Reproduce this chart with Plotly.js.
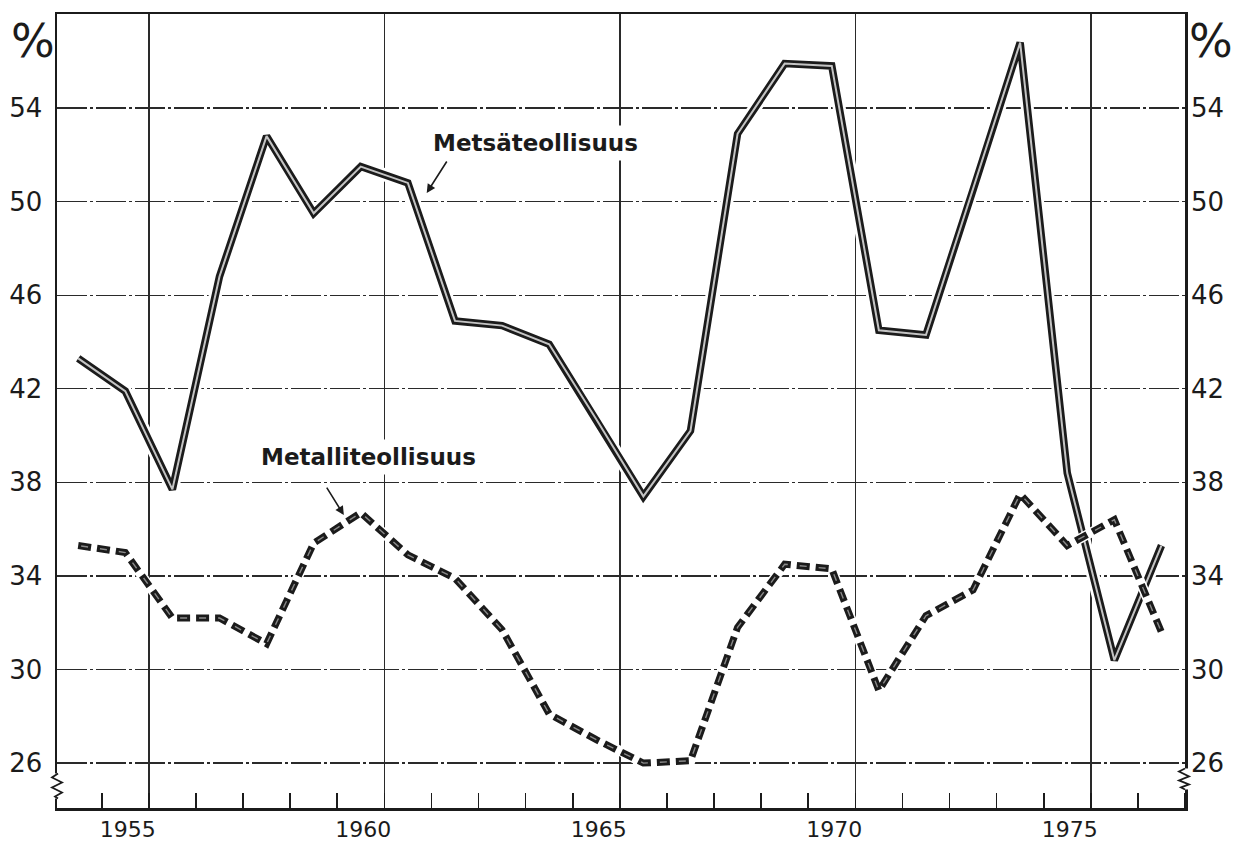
<!DOCTYPE html>
<html>
<head>
<meta charset="utf-8">
<script src="https://cdn.plot.ly/plotly-3.0.1.min.js"></script>
<style>
html,body{margin:0;padding:0;background:#fff;}
#chart{width:1238px;height:843px;}
</style>
</head>
<body>
<div id="chart"></div>
<script>
// ---- data ----
const years = [1954,1955,1956,1957,1958,1959,1960,1961,1962,1963,1964,1965,
               1966,1967,1968,1969,1970,1971,1972,1973,1974,1975,1976,1977];
const metsateollisuus = [43.3,41.9,37.7,46.8,52.8,49.5,51.5,50.8,44.9,44.7,43.9,40.7,
                         37.4,40.2,52.9,55.9,55.8,44.5,44.3,50.5,56.8,38.4,30.4,35.3];
const metalliteollisuus = [35.3,35.0,32.2,32.2,31.1,35.4,36.7,34.9,33.9,31.7,28.1,27.0,
                           26.0,26.1,31.8,34.5,34.3,29.1,32.3,33.4,37.5,35.3,36.4,31.6];
const xTickYears = [1955,1960,1965,1970,1975];
const xTickText = ['1955','1960','1965','1970','1975'];
const yTicks = [26,30,34,38,42,46,50,54];
const seriesNames = ['Metsäteollisuus','Metalliteollisuus'];

// gridlines sit at the end of each labelled year
const xGrid = xTickYears.map(y => y + 0.5);
const ink = '#1b1b1b';
const FONT = 'DejaVu Sans, Verdana, sans-serif';

const traces = [
  // Metsäteollisuus: double line (dark outline, light core) with white halo
  {x: years, y: metsateollisuus, mode: 'lines', line: {color: '#ffffff', width: 13}, hoverinfo: 'skip', showlegend: false},
  {x: years, y: metsateollisuus, mode: 'lines', line: {color: ink, width: 7.5}, name: seriesNames[0], showlegend: false},
  {x: years, y: metsateollisuus, mode: 'lines', line: {color: '#c4c4c4', width: 2}, hoverinfo: 'skip', showlegend: false},
  // Metalliteollisuus: heavy dashed line
  {x: years, y: metalliteollisuus, yaxis: 'y2', mode: 'lines', line: {color: '#ffffff', width: 10}, hoverinfo: 'skip', showlegend: false},
  {x: years, y: metalliteollisuus, yaxis: 'y2', mode: 'lines', line: {color: ink, width: 7, dash: '13px,6px'}, name: seriesNames[1], showlegend: false},
  {x: years, y: metalliteollisuus, yaxis: 'y2', mode: 'lines', line: {color: '#8a8a8a', width: 1.4, dash: '0px,3px,7px,9px'}, hoverinfo: 'skip', showlegend: false}
];

const xRange = [1953.55, 1977.5];
const yRange = [24.08, 58.02];

const layout = {
  width: 1238, height: 843,
  margin: {l: 57, r: 53, t: 14, b: 35},
  paper_bgcolor: '#ffffff', plot_bgcolor: '#ffffff',
  showlegend: false,
  font: {family: FONT, color: ink},
  xaxis: {
    range: xRange, autorange: false,
    tickmode: 'array', tickvals: xGrid, ticktext: xTickText,
    ticks: '', ticklabelshift: -21, ticklabelstandoff: 0,
    tickfont: {size: 22, family: FONT, color: ink},
    showgrid: true, gridcolor: '#2a2a2a', gridwidth: 1.4,
    showline: true, linecolor: ink, linewidth: 2.5, mirror: true,
    zeroline: false,
    minor: {tickmode: 'linear', tick0: 1953.5, dtick: 1, ticks: 'inside', ticklen: 15,
            tickwidth: 1.6, tickcolor: ink, showgrid: false}
  },
  yaxis: {
    range: yRange, autorange: false,
    tickmode: 'array', tickvals: yTicks,
    ticks: '', ticklabelstandoff: 7,
    tickfont: {size: 26, family: FONT, color: ink},
    showgrid: true, gridcolor: '#2a2a2a', gridwidth: 1.3, griddash: '30px,3px,3px,3px',
    showline: true, linecolor: ink, linewidth: 2.5, mirror: true,
    zeroline: false
  },
  yaxis2: {
    overlaying: 'y', side: 'right',
    range: yRange, autorange: false,
    tickmode: 'array', tickvals: yTicks,
    ticks: '', ticklabelstandoff: 5,
    tickfont: {size: 26, family: FONT, color: ink},
    showgrid: false, showline: false, zeroline: false
  },
  annotations: [
    {xref: 'paper', yref: 'paper', x: -0.021, y: 0.966, text: '%', showarrow: false,
     font: {size: 46, family: FONT, color: ink}, xanchor: 'center', yanchor: 'middle'},
    {xref: 'paper', yref: 'paper', x: 1.023, y: 0.966, text: '%', showarrow: false,
     font: {size: 46, family: FONT, color: ink}, xanchor: 'center', yanchor: 'middle'},
    {x: 1963.70, y: 52.5, text: seriesNames[0], showarrow: false,
     font: {size: 23, family: FONT, color: ink, weight: 'bold'},
     bgcolor: '#ffffff', borderpad: 4, xanchor: 'center', yanchor: 'middle'},
    {x: 1960.17, y: 39.1, text: seriesNames[1], showarrow: false,
     font: {size: 23, family: FONT, color: ink, weight: 'bold'},
     bgcolor: '#ffffff', borderpad: 4, xanchor: 'center', yanchor: 'middle'},
    {x: 1961.40, y: 50.37, text: '', showarrow: true, arrowhead: 2, arrowsize: 1.1,
     arrowwidth: 1.6, arrowcolor: ink, ax: 21, ay: -33},
    {x: 1959.64, y: 36.6, text: '', showarrow: true, arrowhead: 2, arrowsize: 1.1,
     arrowwidth: 1.6, arrowcolor: ink, ax: -18, ay: -29}
  ],
  shapes: [
    // axis break marks near the bottom of both vertical axes
    {type: 'path', layer: 'above', xref: 'paper', yref: 'y', xsizemode: 'pixel', ysizemode: 'pixel',
     xanchor: 0, yanchor: 25, path: 'M -3,13 L 3,13 L 3,-12 L -3,-12 Z', fillcolor: '#ffffff', line: {width: 0}},
    {type: 'path', layer: 'above', xref: 'paper', yref: 'y', xsizemode: 'pixel', ysizemode: 'pixel',
     xanchor: 0, yanchor: 25, path: 'M 1,13 L -5,9 L 5,4 L -5,-1 L 5,-6 L -2,-10 L 1,-12', line: {color: ink, width: 1.8}},
    {type: 'path', layer: 'above', xref: 'paper', yref: 'y', xsizemode: 'pixel', ysizemode: 'pixel',
     xanchor: 1, yanchor: 25.3, path: 'M -3,11 L 3,11 L 3,-10 L -3,-10 Z', fillcolor: '#ffffff', line: {width: 0}},
    {type: 'path', layer: 'above', xref: 'paper', yref: 'y', xsizemode: 'pixel', ysizemode: 'pixel',
     xanchor: 1, yanchor: 25.3, path: 'M 0,11 L -6,8 L 4,3 L -6,-1 L 4,-5 L -4,-8 L 0,-10', line: {color: ink, width: 1.8}}
  ]
};

Plotly.newPlot('chart', traces, layout, {displayModeBar: false, staticPlot: true});
</script>
</body>
</html>
